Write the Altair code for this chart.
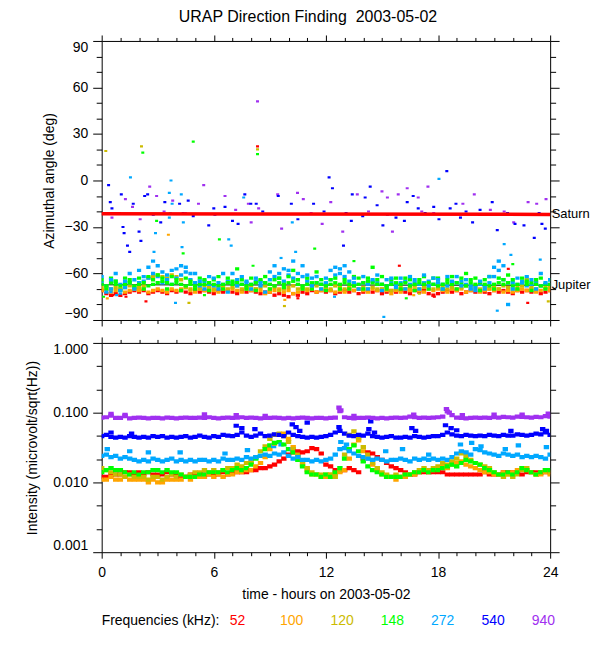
import altair as alt
import pandas as pd

FONT = "Liberation Sans"
TITLE = "URAP Direction Finding\u00a0 2003-05-02"

# sample times (hours), every 15 minutes
HOURS = [i * 0.25 for i in range(97)]
FREQS = ["52", "100", "120", "148", "272", "540", "940"]
COLORS = ["#ff0000", "#ffa500", "#ccbb00", "#00ff00", "#00a8ff", "#0000ff", "#a030f0"]

# ---------------- top panel: azimuthal angle (deg) ----------------
AZ52 = [-71,-73,-74,-73, -74,-73,-72,-71, -72,-71,-73,-72, -71,-72,-73,-71,
        -72,-71,-72,-73, -71,-72,-71,-72, -73,-71,-72,-71, -72,-73,-71,-72,
        -71,-72,-73,-72, -72,-74,-73,-74, -75,-73,-74,-72, -73,-71,-72,-71,
        -72,-71,-73,-72, -71,-72,-71,-73, -72,-71,-72,-71, -73,-72,-71,-72,
        -71,-72,-73,-71, -72,-71,-73,-74, -73,-72,-71,-72, -71,-73,-72,-71,
        -72,-71,-72,-73, -71,-72,-71,-72, -73,-71,-72,-71, -72,-71,-73,-72, -71]
AZ100 = [-71,-70,-72,-71, -70,-72,-71,-70, -71,-70,-72,-71, -70,-71,-72,-70,
         -71,-70,-69,-71, -72,-70,-71,-70, -71,-72,-70,-71, -70,-71,-72,-70,
         -71,-70,-71,-73, -72,-71,-70,-72, -71,-73,-72,-70, -71,-70,-72,-71,
         -70,-71,-72,-71, -72,-70,-71,-70, -71,-72,-70,-71, -70,-71,-73,-71,
         -72,-70,-71,-70, -71,-72,-70,-71, -70,-71,-72,-70, -71,-70,-72,-71,
         -70,-72,-71,-70, -71,-70,-72,-71, -72,-71,-70,-71, -70,-72,-71,-70, -71]
AZ120 = [-69,-68,-70,-69, -70,-69,-68,-70, -69,-68,-63,-62, -61,-62,-63,-61,
         -62,-64,-69,-70, -69,-70,-68,-69, -70,-69,-68,-70, -69,-68,-70,-69,
         -68,-70,-69,-68, -70,-69,-71,-70, -69,-68,-70,-69, -70,-69,-68,-70,
         -69,-70,-68,-69, -70,-69,-68,-70, -69,-70,-69,-70, -70,-69,-71,-70,
         -69,-70,-69,-68, -70,-69,-68,-70, -69,-68,-70,-69, -70,-69,-68,-69,
         -68,-70,-69,-70, -69,-70,-68,-69, -70,-69,-68,-64, -69,-70,-68,-69, -69]
AZ148 = [-67,-68,-66,-67, -68,-67,-66,-68, -67,-66,-68,-67, -66,-65,-66,-67,
         -66,-67,-68,-67, -68,-67,-67,-66, -67,-68,-67,-66, -67,-66,-67,-68,
         -67,-66,-65,-66, -67,-68,-66,-67, -66,-65,-67,-68, -67,-66,-66,-67,
         -68,-67,-66,-67, -66,-67,-68,-67, -66,-65,-66,-67, -67,-68,-67,-66,
         -67,-66,-68,-67, -66,-67,-66,-67, -68,-67,-66,-67, -66,-67,-68,-66,
         -67,-66,-67,-68, -67,-66,-67,-66, -68,-67,-66,-67, -66,-67,-68,-67, -67]
AZ148B = [-64,-70,-63,-65, -71,-63,-64,-69, -63,-70,-62,-64, -61,-63,-70,-62,
          -64,-71,-63,-65, -70,-63,-64,-71, -64,-62,-70,-63, -65,-57,-64,-70,
          -63,-71,-64,-62, -70,-64,-63,-69, -62,-58,-64,-70, -63,-70,-59,-64,
          -71,-64,-63,-70, -64,-70,-62,-63, -70,-63,-56,-64, -62,-70,-64,-63,
          -70,-63,-64,-71, -64,-62,-70,-63, -63,-70,-64,-62, -70,-63,-60,-64,
          -63,-71,-64,-62, -70,-63,-64,-61, -64,-70,-63,-65, -71,-64,-63,-70, -64]
AZ272 = [-66,-68,-70,-65, -67,-69,-66,-64, -66,-65,-63,-60, -62,-66,-64,-67,
         -63,-61,-59,-64, -66,-68,-65,-67, -68,-66,-67,-65, -66,-64,-67,-66,
         -67,-65,-68,-66, -64,-62,-63,-65, -61,-63,-64,-62, -65,-63,-66,-67,
         -66,-64,-61,-60, -62,-65,-66,-67, -66,-67,-65,-66, -67,-68,-66,-67,
         -66,-65,-67,-66, -67,-66,-65,-67, -66,-67,-68,-66, -66,-65,-67,-68,
         -69,-67,-68,-66, -62,-58,-64,-66, -66,-67,-65,-68, -67,-66,-68,-67, -67]
AZ272B = [-62,-72,-64,-60, -71,-65,-60,-70, -58,-62,-56,-52, -55,-59,-61,-58,
          -57,-55,-56,-60, -60,-65,-70,-62, -63,-70,-60,-72, -60,-68,-62,-65,
          -70,-63,-66,-72, -59,-55,-60,-57, -58,-52,-60,-55, -61,-68,-62,-70,
          -63,-58,-56,-57, -55,-59,-63,-70, -62,-70,-64,-61, -71,-64,-63,-69,
          -63,-70,-62,-64, -70,-61,-68,-63, -64,-70,-62,-65, -62,-68,-64,-70,
          -71,-65,-70,-62, -56,-52,-55,-80, -70,-63,-66,-62, -64,-70,-60,-66, -64]

# isolated detections (hour, azimuth)
OUT540_T = [0.37,0.46,0.55,1.05,1.14,1.2,1.38,1.5,1.69,2.0,2.1,2.3,2.46,2.76,3.16,3.38,4.17,4.36,
            4.63,4.9,5.73,6.0,6.06,6.6,7.0,7.3,7.66,7.98,8.27,8.62,9.45,10.15,10.5,11.34,11.9,12.17,
            12.35,12.94,13.08,13.36,13.41,13.97,14.1,14.37,14.74,15.05,15.29,15.75,16.2,16.35,16.67,
            16.94,17.31,17.77,18.05,18.47,18.65,18.96,19.2,19.5,19.85,20.25,20.9,21.17,21.72,22.12,
            22.6,23.15,23.41,23.56,23.74]
OUT540_AZ = [-3,-14,-18,-9,-30,-34,-42,-46,-15,-33,-39,-10,-9,-22,-27,-14,-15,-21,-13,-23,-29,-18,
             -22,-17,-26,-28,-9,-15,-15,-20,-10,-15,-25,-15,-20,2,-5,-42,-21,-26,-9,-23,-11,-4,-16,
             -29,-22,-24,-26,-14,-10,-18,-21,-17,-25,6,-18,-15,-24,-20,-27,-19,-14,-32,-21,-28,-29,
             -37,-21,-28,-31]
OUT940_T = [0.55,1.27,1.65,2.06,2.57,2.94,3.34,3.8,4.48,5.18,5.46,6.6,7.17,7.85,8.0,8.34,8.4,9.42,
            9.63,10.48,10.79,11.21,11.8,12.26,12.9,13.68,14.28,15.0,15.29,15.56,15.87,16.35,16.94,
            17.13,17.46,17.77,19.33,19.94,20.8,21.54,22.05,22.82,23.28,23.78]
OUT940_AZ = [-24,-12,-17,-25,-4,-10,-20,-13,-21,-15,-3,-10,-19,-15,-27,51,-18,-9,-31,-8,-12,-21,
             -28,-14,-33,-9,-20,-7,-11,-33,-9,-5,-11,-20,-4,-21,-15,-9,-19,-20,-27,-14,-15,-12]
OUT272_T = [1.54,3.71,3.62,3.77,3.67,3.62,4.26,4.37,2.88,4.3,6.8,6.93,2.8,7.6,10.2,10.38,9.6,
            18.05,21.26,21.54,21.9,23.47,15.1,21.17,12.46,3.95,0.5,0.8,1.0]
OUT272_AZ = [2,0,-8,-15,-21,-24,-9,-27,-34,-43,-38,-42,-46,-11,-27,-46,-50,1,-52,-41,-48,-51,
             -88,-84,-75,-79,-72,-74,-73]
OUT148_T = [2.2,4.9,8.34,4.36,6.3,2.94,11.4,22.0,8.1,13.5,0.1,5.5,16.3]
OUT148_AZ = [18,25,17,-47,-38,-26,-44,-54,-55,-52,-75,-74,-76]
OUT120_T = [0.22,2.13,8.34,4.67,9.78,17.0,23.9]
OUT120_AZ = [19,22,20,-79,-81,-73,-78]
OUT100_T = [3.57,9.8,16.7,0.3]
OUT100_AZ = [-35,-77,-74,-76]
OUT52_T = [8.34,2.37,15.93,21.76,22.8,0.6,1.3,10.5,17.8]
OUT52_AZ = [22,-78,-55,-57,-79,-74,-75,-76,-75]

SATURN_T = [0, 24]
SATURN_AZ = [-21.4, -21.9]
JUPITER_T = [0, 24]
JUPITER_AZ = [-67.3, -67.6]
PLANETS = ["Saturn", "Jupiter"]
PLANET_AZ = [-21.6, -67.3]

# ---------------- bottom panel: intensity (x 0.001 microvolt/sqrt(Hz)) ----------------
I52 = [12,12,13,13, 13,14,14,13, 14,13,14,13, 13,13,14,13, 13,12,12,13, 13,13,13,13,
       13,13,14,13, 14,14,14,14, 15,15,16,16, 17,18,20,22, 25,27,28,27, 28,31,30,26,
       18,17,15,15, 15,16,15,14, 22,27,26,23, 21,19,17,16, 15,14,13,13, 14,14,14,14,
       14,14,13,13, 13,13,13,13, 13,13,14,13, 13,13,14,14, 14,14,13,14, 14,14,14,14, 14]
I100 = [11,11,12,11, 11,12,11,11, 11,11,10,11, 10,10,11,11, 11,11,12,11, 12,12,12,13,
        12,13,12,13, 13,14,14,15, 15,17,19,23, 30,36,48,50, 42,32,24,18, 15,13,13,12,
        12,13,13,14, 15,22,35,40, 28,22,18,15, 13,12,12,11, 12,12,13,13, 14,15,14,15,
        16,17,16,18, 19,20,18,17, 16,15,14,14, 13,13,14,13, 14,15,16,15, 14,13,13,14, 13]
I120 = [16,15,14,13, 13,12,13,12, 12,12,11,12, 12,11,12,13, 12,13,12,13, 14,14,15,14,
        15,14,15,16, 16,18,17,19, 20,23,28,33, 42,48,50,46, 38,30,25,20, 16,14,13,13,
        13,13,12,15, 25,48,54,43, 32,25,19,16, 14,13,12,13, 12,13,13,14, 15,16,15,16,
        17,19,18,20, 22,26,24,21, 19,18,17,16, 14,13,12,13, 12,13,15,16, 14,13,14,15, 14]
I148 = [14,15,16,15, 15,14,13,14, 13,14,14,15, 15,14,15,14, 14,13,12,12, 12,13,13,14,
        14,14,15,14, 15,16,15,16, 18,22,24,30, 34,37,38,35, 30,27,21,17, 14,13,13,12,
        13,12,14,16, 22,30,34,28, 20,17,15,14, 13,12,12,12, 12,13,13,14, 14,15,14,15,
        15,16,17,18, 17,19,21,20, 19,18,16,15, 14,13,13,14, 13,14,16,15, 14,13,14,15, 15]
I272 = [24,25,23,24, 22,23,22,21, 20,21,20,22, 21,20,21,22, 20,21,20,21, 20,21,21,20,
        21,20,22,21, 21,22,21,23, 22,23,24,25, 24,26,25,27, 24,22,23,21, 21,20,21,20,
        21,22,25,30, 31,28,26,24, 23,22,21,22, 21,20,21,21, 22,21,20,22, 21,22,21,22,
        21,22,21,23, 26,28,27,25, 30,29,27,26, 25,24,26,25, 24,25,23,24, 23,24,23,22, 25]
I540 = [46,48,45,44, 45,44,46,45, 44,45,44,46, 45,46,44,45, 44,45,46,44, 45,47,45,44,
        46,45,48,47, 46,48,52,47, 45,47,50,46, 47,49,48,46, 52,48,46,45, 44,45,44,45,
        46,48,52,55, 50,47,46,48, 47,50,46,45, 44,45,46,44, 44,45,44,46, 45,44,45,46,
        46,48,52,49, 47,46,48,47, 46,47,46,48, 47,46,48,47, 47,49,48,47, 48,50,49,52, 48]
I940 = [85,86,91,84, 84,89,83,84, 85,84,83,84, 84,83,85,84, 83,84,85,84, 84,85,84,86,
        84,83,84,85, 84,85,86,84, 85,84,83,84, 84,85,84,83, 84,83,84,85, 84,83,84,84,
        83,84,85,105, 86,84,83,84, 84,85,84,83, 84,83,84,85, 84,85,88,86, 84,85,84,85,
        86,88,104,92, 85,84,83,84, 85,84,85,84, 86,85,87,86, 85,88,87,86, 85,87,86,89, 88]

SPK940_T = [0.5,1.25,5.5,7.2,8.75,12.7,12.8,13.5,16.7,18.45,18.6,19.3,21.0,22.5,23.9]
SPK940_V = [0.096,0.093,0.095,0.092,0.090,0.118,0.108,0.090,0.094,0.113,0.100,0.092,0.094,0.094,0.097]
SPK540_T = [0.5,1.6,7.2,7.5,8.2,10.2,10.4,10.6,11.0,12.7,14.3,14.4,14.6,16.6,16.8,18.4,18.7,19.0,
            21.9,23.6,23.8]
SPK540_V = [0.052,0.050,0.065,0.060,0.058,0.068,0.062,0.055,0.072,0.062,0.058,0.075,0.052,0.060,
            0.055,0.066,0.060,0.056,0.055,0.058,0.055]
SPK272_T = [0.3,1.5,2.5,4.2,6.6,7.8,9.2,9.6,10.2,12.8,13.1,15.2,16.1,17.5,19.2,19.8,20.3,21.6,22.3,23.8]
SPK272_V = [0.030,0.028,0.027,0.027,0.026,0.029,0.033,0.035,0.030,0.038,0.035,0.028,0.030,0.025,
            0.035,0.037,0.033,0.030,0.034,0.032]

HOUR_TICKS = list(range(25))
AZ_TICKS = list(range(-90, 91, 10))
INT_TICKS = [10 ** (-k / 3) for k in range(10)]


def rows(ts, vs, freq, rank, scale=1.0):
    return [{"t": t, "v": v * scale, "freq": freq, "rank": rank} for t, v in zip(ts, vs)]


def frame(parts):
    df = pd.DataFrame([r for p in parts for r in p])
    return df.sort_values(["t", "rank"], kind="stable").reset_index(drop=True)


top_band = frame([rows(HOURS, AZ52, "52", 0), rows(HOURS, AZ100, "100", 1),
                  rows(HOURS, AZ120, "120", 2), rows(HOURS, AZ272, "272", 3),
                  rows(HOURS, AZ148, "148", 4), rows(HOURS, AZ148B, "148", 5),
                  rows(HOURS, AZ272B, "272", 6)])
top_out = frame([rows(OUT52_T, OUT52_AZ, "52", 0), rows(OUT100_T, OUT100_AZ, "100", 1),
                 rows(OUT120_T, OUT120_AZ, "120", 2), rows(OUT148_T, OUT148_AZ, "148", 3),
                 rows(OUT272_T, OUT272_AZ, "272", 4), rows(OUT540_T, OUT540_AZ, "540", 5),
                 rows(OUT940_T, OUT940_AZ, "940", 6)])
bot_band = frame([rows(HOURS, I52, "52", 0, 0.001), rows(HOURS, I100, "100", 1, 0.001),
                  rows(HOURS, I120, "120", 2, 0.001), rows(HOURS, I148, "148", 3, 0.001),
                  rows(HOURS, I272, "272", 4, 0.001), rows(SPK272_T, SPK272_V, "272", 4),
                  rows(HOURS, I540, "540", 5, 0.001), rows(SPK540_T, SPK540_V, "540", 5),
                  rows(HOURS, I940, "940", 6, 0.001), rows(SPK940_T, SPK940_V, "940", 6)])
saturn = pd.DataFrame({"t": SATURN_T, "v": SATURN_AZ})
jupiter = pd.DataFrame({"t": JUPITER_T, "v": JUPITER_AZ})
planets = pd.DataFrame({"t": [24, 24], "v": PLANET_AZ, "name": PLANETS})

label_color = " : ".join(f"datum.label === '{f}' ? '{c}'" for f, c in zip(FREQS, COLORS)) + " : 'black'"
LEGEND = alt.Legend(title="Frequencies (kHz):", orient="bottom", direction="horizontal",
                    titleOrient="left", gridAlign="all", columnPadding=12.5, labelOffset=0.5,
                    symbolSize=0.25, symbolOpacity=0, symbolStrokeWidth=0.01, titlePadding=-5,
                    offset=12, labelColor=alt.ExprRef(expr=label_color))
color = alt.Color("freq:N", scale=alt.Scale(domain=FREQS, range=COLORS), legend=LEGEND)

X_SCALE = alt.Scale(domain=[0, 24], nice=False, zero=False)
AZ_SCALE = alt.Scale(domain=[-90, 90], nice=False, zero=False)
INT_SCALE = alt.Scale(type="log", domain=[0.001, 1], nice=False)

X_TICK = alt.ExprRef(expr="datum.value % 6 === 0 ? 6 : 3.5")
AZ_TICK = alt.ExprRef(expr="datum.value % 30 === 0 ? 9 : 5.5")
MAJOR_LOG = "abs(log(datum.value)/LN10 - round(log(datum.value)/LN10)) < 0.01"
INT_TICK = alt.ExprRef(expr=f"{MAJOR_LOG} ? 9 : 5.5")


def xaxis(orient, labels=False, title=None):
    return alt.Axis(orient=orient, values=HOUR_TICKS, labels=labels, title=title, tickSize=X_TICK,
                    format="d", labelExpr="datum.value % 6 === 0 ? datum.label : ''",
                    labelFlush=False, labelPadding=7, titlePadding=8)


def azaxis(orient, labels=False, title=None):
    return alt.Axis(orient=orient, values=AZ_TICKS, labels=labels, title=title, tickSize=AZ_TICK,
                    format="d", labelExpr="datum.value % 30 === 0 ? datum.label : ''",
                    labelFlush=True, labelPadding=5, titleX=-52.5, titleBaseline="middle")


def intaxis(orient, labels=False, title=None):
    return alt.Axis(orient=orient, values=INT_TICKS, labels=labels, title=title, tickSize=INT_TICK,
                    labelExpr=f"{MAJOR_LOG} ? format(datum.value, '.3f') : ''",
                    labelFlush=True, labelPadding=5, titleX=-69.5, titleBaseline="middle")


# top panel
t_frame = alt.Chart(jupiter).mark_line(color="black", strokeWidth=1).encode(
    x=alt.X("t:Q", scale=X_SCALE, axis=xaxis("top")),
    y=alt.Y("v:Q", scale=AZ_SCALE, axis=azaxis("right")))
t_band = alt.Chart(top_band).mark_tick(orient="vertical", thickness=4.2, size=3.4, opacity=1, clip=True).encode(
    x=alt.X("t:Q", scale=X_SCALE, axis=xaxis("bottom")),
    y=alt.Y("v:Q", scale=AZ_SCALE, axis=azaxis("left", True, "Azimuthal angle (deg)")),
    color=color)
t_out = alt.Chart(top_out).mark_tick(orient="vertical", thickness=3, size=2.2, opacity=1, clip=True).encode(
    x=alt.X("t:Q", scale=X_SCALE, axis=None),
    y=alt.Y("v:Q", scale=AZ_SCALE, axis=None),
    color=color)
t_sat = alt.Chart(saturn).mark_line(color="#ff0000", strokeWidth=3.5).encode(
    x=alt.X("t:Q", scale=X_SCALE, axis=None),
    y=alt.Y("v:Q", scale=AZ_SCALE, axis=None))
t_names = alt.Chart(planets).mark_text(align="left", baseline="middle", dx=1.5, font=FONT,
                                      fontSize=13, color="black").encode(
    x=alt.X("t:Q", scale=X_SCALE, axis=None),
    y=alt.Y("v:Q", scale=AZ_SCALE, axis=None),
    text="name:N")
top = alt.layer(t_frame, t_band, t_out, t_sat, t_names).resolve_axis(
    x="independent", y="independent").properties(width=450, height=280)

# bottom panel
b_frame = alt.Chart(bot_band).mark_tick(orient="vertical", thickness=5.4, size=4.2, opacity=1, clip=True).encode(
    x=alt.X("t:Q", scale=X_SCALE, axis=xaxis("bottom", True, "time - hours on 2003-05-02")),
    y=alt.Y("v:Q", scale=INT_SCALE,
            axis=intaxis("left", True, "Intensity (microvolt/sqrt(Hz))")),
    color=color)
b_top = alt.Chart(bot_band).mark_tick(orient="vertical", thickness=0.1, size=0.1, opacity=0).encode(
    x=alt.X("t:Q", scale=X_SCALE, axis=xaxis("top")),
    y=alt.Y("v:Q", scale=INT_SCALE, axis=intaxis("right")))
bottom = alt.layer(b_top, b_frame).resolve_axis(
    x="independent", y="independent").properties(width=450, height=210)

chart = alt.vconcat(top, bottom, spacing=9).properties(
    title=alt.TitleParams(TITLE, font=FONT, fontSize=16, fontWeight="normal", color="black",
                          anchor="middle", offset=9),
    padding={"left": 16, "top": 0, "right": 0, "bottom": 0},
).configure_view(stroke="black", strokeWidth=1).configure_axis(
    domain=False, grid=False, tickColor="black", tickWidth=1, labelColor="black",
    labelFont=FONT, labelFontSize=14, titleFont=FONT, titleFontSize=14,
    titleFontWeight="normal", titleColor="black",
).configure_legend(
    labelFont=FONT, labelFontSize=14, titleFont=FONT, titleFontSize=14,
    titleFontWeight="normal", titleColor="black", padding=0,
)

chart.save("out.html", embed_options={"renderer": "svg", "actions": False})
